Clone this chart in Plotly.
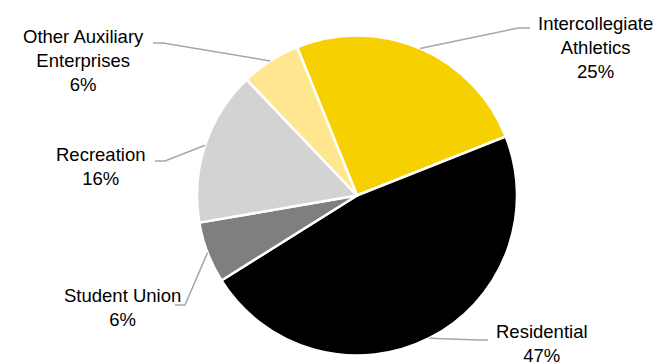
import math
import plotly.graph_objects as go

# ---- data ----
categories = ["Intercollegiate Athletics", "Residential", "Student Union",
              "Recreation", "Other Auxiliary Enterprises"]
label_lines = ["Intercollegiate<br>Athletics", "Residential", "Student Union",
               "Recreation", "Other Auxiliary<br>Enterprises"]
shares = [25.1, 47.1, 6.2, 15.6, 6.0]

# ---- styling / layout ----
colors = ["#F6D000", "#000000", "#7F7F7F", "#D3D3D3", "#FFE68F"]
OFF = 8                      # page body margin of the html page
W, H = 661 - OFF, 364 - OFF  # figure size so it fits the window
CX, CY, R = 357, 195.5, 160  # pie centre / radius in window pixels
ROT = -22
FONT = "Arial, Liberation Sans, sans-serif"

# label block centres, elbow and end points of leader lines (window pixels)
label_pos = [(595, 47), (542, 343), (122, 307), (100, 167), (83, 61)]
elbow_pts = [(518, 28), (478, 340), (185, 305), (165, 161), (163, 43)]
end_pts = [(530, 28), (488, 340), (175, 305), (155, 161), (153, 43)]


def px(x):
    return (x - OFF) / W


def py(y):
    return 1 - (y - OFF) / H


fig = go.Figure(go.Pie(
    labels=categories,
    values=shares,
    sort=False,
    direction="clockwise",
    rotation=ROT,
    marker=dict(colors=colors, line=dict(color="white", width=2.5)),
    textinfo="none",
    hoverinfo="label+percent",
    showlegend=False,
    domain=dict(x=[px(CX - R), px(CX + R)], y=[py(CY + R), py(CY - R)]),
))

total = sum(shares)
cum = 0.0
annotations = []
shapes = []
for i, v in enumerate(shares):
    mid = math.radians(ROT + 360 * (cum + v / 2) / total)
    cum += v
    sx = CX + R * math.sin(mid)
    sy = CY - R * math.cos(mid)
    ex, ey = elbow_pts[i]
    tx, ty = end_pts[i]
    shapes.append(dict(
        type="path", xref="paper", yref="paper",
        path=f"M {px(sx)},{py(sy)} L {px(ex)},{py(ey)} L {px(tx)},{py(ty)}",
        line=dict(color="#A6A6A6", width=1.5),
    ))
    pct = round(v / total * 100)
    lx, ly = label_pos[i]
    annotations.append(dict(
        x=px(lx), y=py(ly), xref="paper", yref="paper",
        text=f"{label_lines[i]}<br>{pct}%",
        showarrow=False, xanchor="center", yanchor="middle", align="center",
        font=dict(family=FONT, size=18.5, color="#000000"),
    ))

fig.update_layout(
    width=W, height=H,
    margin=dict(l=0, r=0, t=0, b=0),
    paper_bgcolor="white", plot_bgcolor="white",
    annotations=annotations, shapes=shapes,
)

fig.write_html("out.html")
